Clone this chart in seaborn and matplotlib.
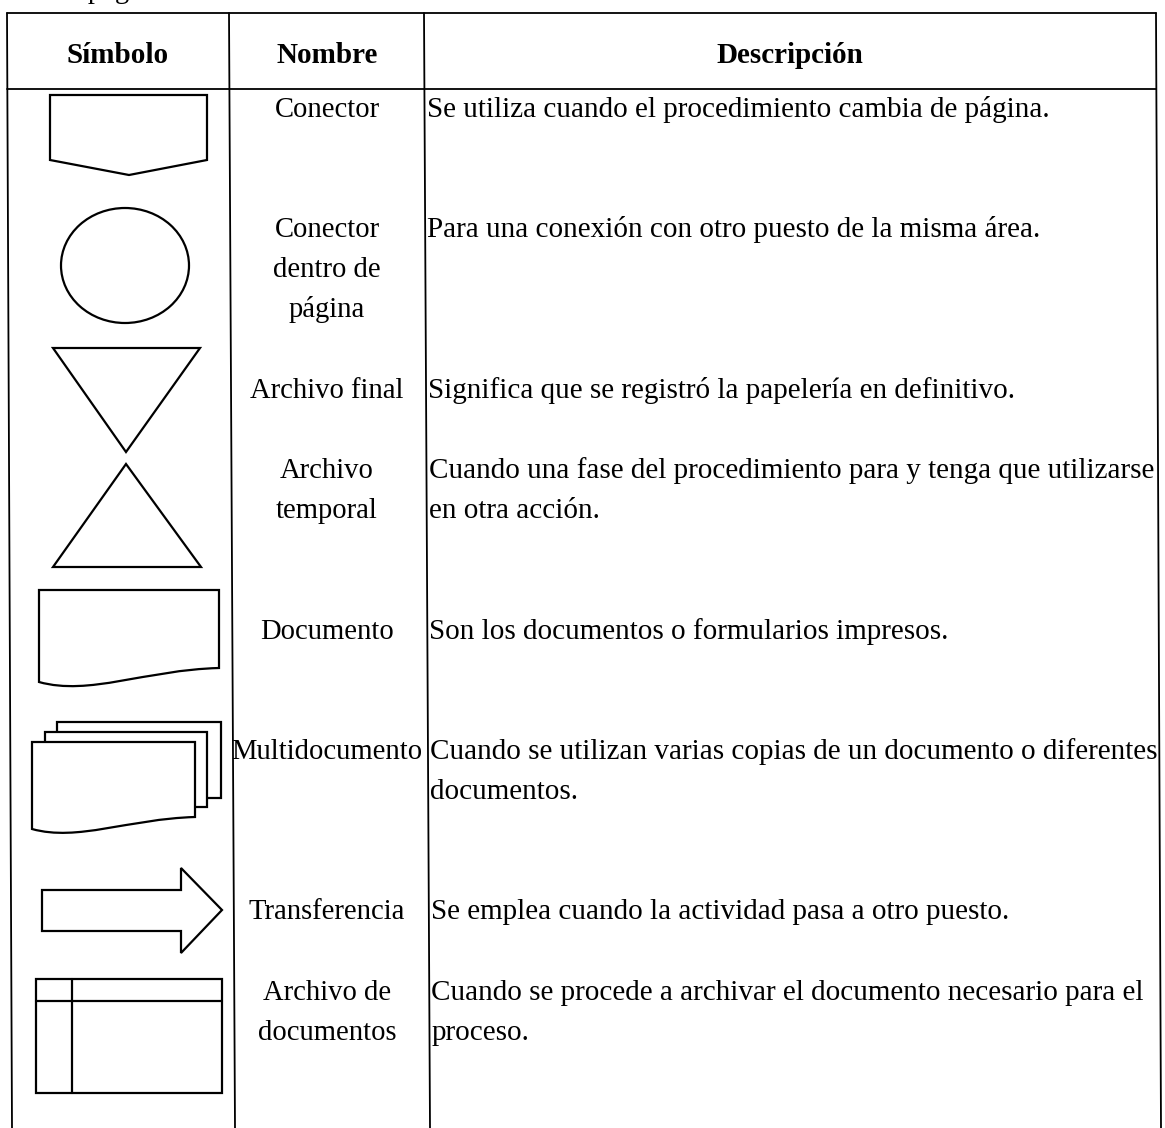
import numpy as np
import matplotlib.pyplot as plt
import seaborn as sns
from matplotlib.patches import Polygon, Ellipse, Rectangle, PathPatch
from matplotlib.path import Path

# Table content
encabezados = ["Símbolo", "Nombre", "Descripción"]
simbolos = ["conector", "conector_pagina", "archivo_final", "archivo_temporal",
            "documento", "multidocumento", "transferencia", "archivo_documentos"]
nombres = ["Conector", "Conector\ndentro de\npágina", "Archivo final",
           "Archivo\ntemporal", "Documento", "Multidocumento", "Transferencia",
           "Archivo de\ndocumentos"]
descripciones = [
    "Se utiliza cuando el procedimiento cambia de página.",
    "Para una conexión con otro puesto de la misma área.",
    "Significa que se registró la papelería en definitivo.",
    "Cuando una fase del procedimiento para y tenga que utilizarse\nen otra acción.",
    "Son los documentos o formularios impresos.",
    "Cuando se utilizan varias copias de un documento o diferentes\ndocumentos.",
    "Se emplea cuando la actividad pasa a otro puesto.",
    "Cuando se procede a archivar el documento necesario para el\nproceso.",
]

# Layout in pixels (y grows downwards)
W, H = 1165, 1128
baselines = [117, 237, 398, 478, 639, 759, 919, 1000]
salto = 40
col_top = [7, 229, 424, 1156]
col_bot = [12, 235, 430, 1161]
y_top, y_head = 13, 89

sns.set_theme(style="white")
plt.rcParams['font.family'] = ['Liberation Serif', 'DejaVu Serif']
plt.rcParams['text.color'] = 'black'

fig = plt.figure(figsize=(W / 100, H / 100), dpi=100)
ax = fig.add_axes([0, 0, 1, 1])
ax.set_xlim(0, W)
ax.set_ylim(H, 0)
ax.axis('off')

lw_tab = 1.3
lw_sym = 1.6
fs_head = 21
fs_nom = 20.6
fs_desc = 21


def col_x(i, y):
    return col_top[i] + (col_bot[i] - col_top[i]) * (y - y_top) / (H - y_top)


# grid lines
for i in range(4):
    ax.plot([col_top[i], col_bot[i]], [y_top, H], color='black', lw=lw_tab)
for y in (y_top, y_head):
    ax.plot([col_x(0, y), col_x(3, y)], [y, y], color='black', lw=lw_tab)

# line from the previous page, cut at the top edge
ax.text(60, -2, "la página", fontsize=fs_nom, ha='left', va='baseline')

# header
head_x = [118, 327, 790]
for x, t in zip(head_x, encabezados):
    ax.text(x, 63, t, fontsize=fs_head, fontweight='bold', ha='center', va='baseline')


def hoja(x0, x1, yt, yr, yl):
    w = x1 - x0
    verts = [(x0, yt), (x1, yt), (x1, yr),
             (x0 + 0.59 * w, yr + 2), (x0 + 0.28 * w, yl + 0.078 * w), (x0, yl),
             (x0, yt)]
    codes = [Path.MOVETO, Path.LINETO, Path.LINETO,
             Path.CURVE4, Path.CURVE4, Path.CURVE4, Path.CLOSEPOLY]
    return PathPatch(Path(verts, codes), facecolor='white', edgecolor='black', lw=lw_sym)


def dibuja_simbolo(tipo):
    kw = dict(facecolor='white', edgecolor='black', lw=lw_sym)
    if tipo == "conector":
        ax.add_patch(Polygon([(50, 95), (207, 95), (207, 160), (129, 175), (50, 160)], **kw))
    elif tipo == "conector_pagina":
        ax.add_patch(Ellipse((125, 265.5), 128, 115, **kw))
    elif tipo == "archivo_final":
        ax.add_patch(Polygon([(53, 348), (200, 348), (126, 452)], **kw))
    elif tipo == "archivo_temporal":
        ax.add_patch(Polygon([(126, 464), (201, 567), (53, 567)], **kw))
    elif tipo == "documento":
        ax.add_patch(hoja(39, 219, 590, 668, 682))
    elif tipo == "multidocumento":
        ax.add_patch(Rectangle((57, 722), 164, 76, **kw))
        ax.add_patch(Rectangle((45, 732), 162, 75, **kw))
        ax.add_patch(hoja(32, 195, 742, 817, 829))
    elif tipo == "transferencia":
        ax.add_patch(Polygon([(42, 890), (181, 890), (181, 868), (222, 910),
                              (181, 953), (181, 931), (42, 931)], **kw))
    elif tipo == "archivo_documentos":
        ax.add_patch(Rectangle((36, 979), 186, 114, **kw))
        ax.plot([36, 222], [1001, 1001], color='black', lw=lw_sym)
        ax.plot([72, 72], [979, 1093], color='black', lw=lw_sym)


for tipo, nombre, desc, yb in zip(simbolos, nombres, descripciones, baselines):
    dibuja_simbolo(tipo)
    for k, linea in enumerate(nombre.split("\n")):
        ax.text(327, yb + k * salto, linea, fontsize=fs_nom, ha='center', va='baseline')
    for k, linea in enumerate(desc.split("\n")):
        y = yb + k * salto
        ax.text(col_x(2, y) + 2, y, linea, fontsize=fs_desc, ha='left', va='baseline')

fig.savefig("out.png", dpi=100, facecolor='white')
